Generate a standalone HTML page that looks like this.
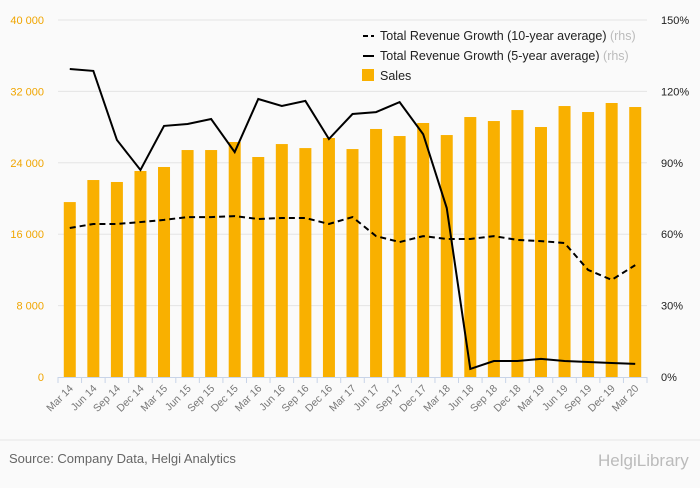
<!DOCTYPE html>
<html><head><meta charset="utf-8"><style>
body{margin:0;background:#fafafa;font-family:"Liberation Sans",sans-serif}
svg text{font-family:"Liberation Sans",sans-serif}
</style></head><body>
<svg id="c" width="700" height="483" xmlns="http://www.w3.org/2000/svg">
<rect width="700" height="483" fill="#fafafa"/>
<g id="grid"></g><g id="bars"></g><g id="lines"></g><g id="axes"></g>
<g font-size="12.5" fill="#222">
<g><line x1="363" y1="36" x2="374" y2="36" stroke="#000" stroke-width="2" stroke-dasharray="5,3"/><text x="380" y="40">Total Revenue Growth (10-year average) <tspan fill="#bbb">(rhs)</tspan></text></g>
<g><line x1="363" y1="56" x2="374" y2="56" stroke="#000" stroke-width="2"/><text x="380" y="60">Total Revenue Growth (5-year average) <tspan fill="#bbb">(rhs)</tspan></text></g>
<g><rect x="362" y="69" width="12" height="12" fill="#f9b000"/><text x="380" y="80">Sales</text></g>
</g>
<line x1="0" y1="440" x2="700" y2="440" stroke="#e6e6e6"/>
<text x="9" y="463" font-size="13" fill="#666">Source: Company Data, Helgi Analytics</text>
<text x="598" y="466" font-size="17" fill="#bbb">HelgiLibrary</text>
</svg>
<script>
const categories=["Mar 14","Jun 14","Sep 14","Dec 14","Mar 15","Jun 15","Sep 15","Dec 15","Mar 16","Jun 16","Sep 16","Dec 16","Mar 17","Jun 17","Sep 17","Dec 17","Mar 18","Jun 18","Sep 18","Dec 18","Mar 19","Jun 19","Sep 19","Dec 19","Mar 20"];
const sales=[19600,22070,21850,23080,23530,25430,25430,26330,24650,26100,25650,26780,25540,27790,27000,28460,27110,29130,28680,29910,28010,30360,29690,30700,30250];
const growth5y=[129.4,128.6,99.6,87,105.5,106.3,108.4,94.5,116.8,113.9,116,100,110.5,111.3,115.5,102,71,3.4,6.7,6.7,7.6,6.7,6.3,5.9,5.5];
const growth10y=[62.6,64.3,64.3,65.1,66,67.2,67.2,67.6,66.4,66.8,66.8,64.3,67.2,59.2,56.7,59.2,58,58,59.2,57.6,57.1,56.3,45,40.8,47];
const leftTicks=[0,8000,16000,24000,32000,40000];
const rightTicks=[0,30,60,90,120,150];
const NS="http://www.w3.org/2000/svg";
const x0=58,x1=647,yb=377,yt=20;
const bw=(x1-x0)/categories.length;
const xC=i=>x0+bw*(i+0.5);
const yL=v=>yb-(v/40000)*(yb-yt);
const yR=v=>yb-(v/150)*(yb-yt);
function mk(tag,attrs,parent,txt){const e=document.createElementNS(NS,tag);for(const k in attrs)e.setAttribute(k,attrs[k]);if(txt!==undefined)e.textContent=txt;document.getElementById(parent).appendChild(e);return e;}
leftTicks.forEach((t,i)=>{
 if(t>0){const g=mk('line',{x1:x0,x2:x1,y1:yL(t),y2:yL(t),stroke:'#e4e4e4'},'grid');
 
 }
 const l=mk('text',{x:44,y:yL(t)+4,'text-anchor':'end','font-size':11,fill:'#f0a500'},'axes',t===0?'0':(t/1000)+' 000');
 
 
});
rightTicks.forEach(t=>{
 const l=mk('text',{x:661,y:yR(t)+4,'font-size':11,fill:'#222'},'axes',t+'%');
 
 
});
const ax=mk('line',{x1:x0,x2:x1,y1:yb+0.5,y2:yb+0.5,stroke:'#c8d4e8'},'axes');


categories.forEach((c,i)=>{
 const b=mk('rect',{x:xC(i)-6,y:yL(sales[i]),width:12,height:yb-yL(sales[i]),fill:'#f9b000'},'bars');
 
 
 const tk=mk('line',{x1:x0+bw*i,x2:x0+bw*i,y1:yb,y2:yb+6,stroke:'#c8d4e8'},'axes');
 
 
 const tx=xC(i)+4,ty=yb+12;
 const l=mk('text',{x:tx,y:ty,'text-anchor':'end','font-size':10.5,fill:'#777',transform:`rotate(-45 ${tx} ${ty})`},'axes',c);
 
 
});
const tk=mk('line',{x1:x1,x2:x1,y1:yb,y2:yb+6,stroke:'#c8d4e8'},'axes');


const p10=mk('polyline',{points:growth10y.map((v,i)=>xC(i)+','+yR(v)).join(' '),fill:'none',stroke:'#000','stroke-width':2,'stroke-dasharray':'6,4'},'lines');


const p5=mk('polyline',{points:growth5y.map((v,i)=>xC(i)+','+yR(v)).join(' '),fill:'none',stroke:'#000','stroke-width':2},'lines');


</script>
</body></html>
